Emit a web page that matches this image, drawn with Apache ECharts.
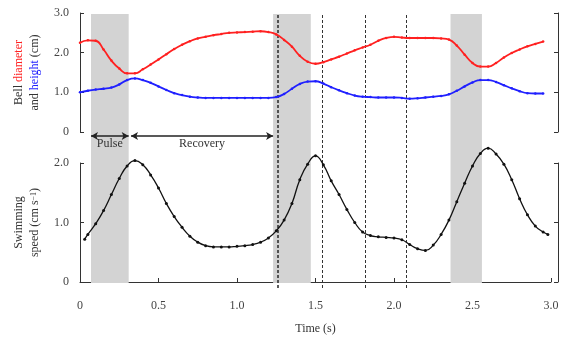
<!DOCTYPE html>
<html>
<head>
<meta charset="utf-8">
<script src="https://cdn.jsdelivr.net/npm/echarts@6/dist/echarts.min.js"></script>
<style>
  html, body { margin: 0; padding: 0; background: #fff; }
  #chart { width: 568px; height: 342px; }
</style>
</head>
<body>
<div id="chart"></div>
<script>
// time samples (s) for bell shape series
const timeBell = [0, 0.05, 0.1, 0.15, 0.2, 0.25, 0.3, 0.35, 0.4, 0.45, 0.5, 0.55, 0.6, 0.65, 0.7, 0.75, 0.8, 0.85, 0.9, 0.95,
  1.0, 1.05, 1.1, 1.15, 1.2, 1.25, 1.3, 1.35, 1.4, 1.45, 1.5, 1.55, 1.6, 1.65, 1.7, 1.75, 1.8, 1.85, 1.9, 1.95,
  2.0, 2.05, 2.1, 2.15, 2.2, 2.25, 2.3, 2.35, 2.4, 2.45, 2.5, 2.55, 2.6, 2.65, 2.7, 2.75, 2.8, 2.85, 2.9, 2.95]

const diameter = [2.25, 2.31, 2.30, 2.08, 1.80, 1.60, 1.48, 1.48, 1.58, 1.70, 1.83, 1.96, 2.09, 2.20, 2.29, 2.36, 2.40, 2.44, 2.47, 2.50,
  2.51, 2.52, 2.53, 2.54, 2.52, 2.46, 2.32, 2.15, 1.92, 1.77, 1.72, 1.76, 1.83, 1.90, 1.98, 2.06, 2.13, 2.20, 2.30, 2.37,
  2.40, 2.38, 2.37, 2.37, 2.37, 2.37, 2.36, 2.33, 2.18, 1.95, 1.74, 1.65, 1.65, 1.74, 1.88, 1.99, 2.08, 2.16, 2.22, 2.28]

const height = [1.00, 1.04, 1.07, 1.09, 1.12, 1.20, 1.31, 1.35, 1.31, 1.24, 1.15, 1.06, 0.98, 0.93, 0.89, 0.87, 0.86, 0.86, 0.86, 0.86,
  0.86, 0.86, 0.86, 0.86, 0.86, 0.88, 0.96, 1.09, 1.21, 1.27, 1.28, 1.22, 1.13, 1.05, 0.98, 0.92, 0.89, 0.88, 0.87, 0.87,
  0.87, 0.86, 0.84, 0.85, 0.87, 0.89, 0.91, 0.95, 1.04, 1.15, 1.25, 1.31, 1.31, 1.26, 1.18, 1.10, 1.03, 0.98, 0.97, 0.97]

// swimming speed (cm/s)
const timeSpeed = [0.03, 0.05, 0.1, 0.15, 0.2, 0.25, 0.3, 0.35, 0.4, 0.45, 0.5, 0.55, 0.6, 0.65, 0.7, 0.75, 0.8, 0.85, 0.9, 0.95,
  1.0, 1.05, 1.1, 1.15, 1.2, 1.25, 1.3, 1.35, 1.4, 1.45, 1.5, 1.55, 1.6, 1.65, 1.7, 1.75, 1.8, 1.85, 1.9, 1.95,
  2.0, 2.05, 2.1, 2.15, 2.2, 2.25, 2.3, 2.35, 2.4, 2.45, 2.5, 2.55, 2.6, 2.65, 2.7, 2.75, 2.8, 2.85, 2.9, 2.95, 2.98]

const speed = [0.72, 0.80, 0.98, 1.20, 1.47, 1.74, 1.95, 2.04, 1.97, 1.80, 1.58, 1.32, 1.10, 0.92, 0.77, 0.67, 0.61, 0.59, 0.59, 0.59,
  0.60, 0.61, 0.63, 0.67, 0.74, 0.86, 1.04, 1.32, 1.72, 1.98, 2.12, 1.97, 1.70, 1.47, 1.22, 1.00, 0.84, 0.78, 0.76, 0.75,
  0.74, 0.71, 0.63, 0.56, 0.53, 0.62, 0.80, 1.04, 1.35, 1.66, 1.95, 2.16, 2.25, 2.15, 1.98, 1.72, 1.40, 1.13, 0.94, 0.84, 0.80]

// shaded pulse phases and dashed event markers
const pulseStart = [0.07, 1.23, 2.36]
const pulseEnd = [0.31, 1.47, 2.56]
const dashedAt = [1.26, 1.54, 1.82, 2.08]

const phaseNames = ['Pulse', 'Recovery']
const phaseStart = [0.07, 0.325]
const phaseEnd = [0.31, 1.23]

const xTicks = [0, 0.5, 1.0, 1.5, 2.0, 2.5, 3.0]

const FONT = 'Liberation Serif'
const AXIS = '#333'
const TXT = '#444'

const zip = (xs, ys) => xs.map((x, i) => [x, ys[i]])
const fmt = v => (v === 0 ? '0' : v.toFixed(1))

const chart = echarts.init(document.getElementById('chart'), null, { renderer: 'canvas' })

const gridBase = { left: 80, width: 471, outerBoundsMode: 'none', containLabel: false }

const yBracket = (gridIndex, max, side, offset, name, rich, gap) => ({
    type: 'value', gridIndex, min: 0, max, interval: 1, position: side, offset,
    axisLine: { show: true, lineStyle: { color: AXIS, width: 1 } },
    axisTick: { show: true, inside: true, length: 4, lineStyle: { color: AXIS } },
    axisLabel: { show: side === 'left', color: TXT, fontFamily: FONT, fontSize: 12, margin: 6, formatter: fmt },
    splitLine: { show: false },
    name: name || '', nameLocation: 'middle', nameGap: gap || 0, nameRotate: 90,
    nameTextStyle: { color: '#333', fontFamily: FONT, fontSize: 12, lineHeight: 16, rich: rich || {} },
})

const hiddenX = gridIndex => ({ type: 'value', gridIndex, min: 0, max: 3, show: false })
const hiddenY = gridIndex => ({ type: 'value', gridIndex, min: 0, max: 1, show: false })

chart.setOption({
    backgroundColor: '#fff',
    animation: false,
    grid: [
        { ...gridBase, top: 13, height: 119 },   // bell shape
        { ...gridBase, top: 163, height: 119 },  // swimming speed
        { ...gridBase, top: 14, height: 269 },   // shading
        { ...gridBase, top: 13, height: 275 },   // dashed markers
        { ...gridBase, top: 131, height: 10 },   // phase arrows
    ],
    xAxis: [
        hiddenX(0),
        {
            type: 'value', gridIndex: 1, min: 0, max: 3, interval: 0.5, offset: 11,
            axisLine: { show: true, lineStyle: { color: AXIS, width: 1 } },
            axisTick: { show: true, inside: true, length: 4, lineStyle: { color: AXIS } },
            axisLabel: { color: TXT, fontFamily: FONT, fontSize: 12, margin: 7, formatter: fmt,
                customValues: xTicks },
            splitLine: { show: false },
            name: 'Time (s)', nameLocation: 'middle', nameGap: 30,
            nameTextStyle: { color: '#333', fontFamily: FONT, fontSize: 12 },
        },
        hiddenX(2), hiddenX(3), hiddenX(4),
    ],
    yAxis: [
        yBracket(0, 3, 'left', 5, 'Bell {r|diameter}\nand {b|height} (cm)',
            { r: { color: '#ff2020', fontFamily: FONT, fontSize: 12 }, b: { color: '#2020ff', fontFamily: FONT, fontSize: 12 } }, 31),
        yBracket(0, 3, 'right', 7),
        yBracket(1, 2, 'left', 5, 'Swimming\nspeed (cm s{s|\u22121})',
            { s: { fontFamily: FONT, fontSize: 8, verticalAlign: 'bottom', padding: [0, 0, 5, 0] } }, 31),
        yBracket(1, 2, 'right', 7),
        hiddenY(2), hiddenY(3), hiddenY(4),
    ],
    series: [
        {
            type: 'line', xAxisIndex: 2, yAxisIndex: 4, data: [], z: 1, silent: true,
            markArea: {
                silent: true,
                itemStyle: { color: '#d3d3d3' },
                data: pulseStart.map((s, i) => [{ xAxis: s }, { xAxis: pulseEnd[i] }]),
            },
        },
        {
            type: 'line', xAxisIndex: 3, yAxisIndex: 5, data: [], z: 2, silent: true,
            markLine: {
                silent: true, symbol: 'none', label: { show: false },
                lineStyle: { color: '#333', width: 1, type: [3, 2] },
                data: dashedAt.map((x, i) => ({ xAxis: x, lineStyle: i === 0 ? { width: 1.6 } : {} })),
            },
        },
        {
            type: 'line', xAxisIndex: 4, yAxisIndex: 6, data: [], z: 3, silent: true,
            markLine: {
                silent: true, symbol: ['arrow', 'arrow'], symbolSize: [6, 7],
                lineStyle: { color: '#222', width: 1.5, type: 'solid' },
                label: { show: true, position: 'insideMiddleBottom', distance: 2, formatter: '{b}',
                    color: '#333', fontFamily: FONT, fontSize: 12 },
                data: phaseNames.map((n, i) => [
                    { name: n, coord: [phaseStart[i], 0.5] },
                    { coord: [phaseEnd[i], 0.5] },
                ]),
            },
        },
        {
            type: 'line', name: 'diameter', xAxisIndex: 0, yAxisIndex: 0, z: 5,
            data: zip(timeBell, diameter), smooth: true,
            symbol: 'circle', symbolSize: 2.5, showSymbol: true,
            lineStyle: { color: '#ff2020', width: 1.8 }, itemStyle: { color: '#ff2020' },
        },
        {
            type: 'line', name: 'height', xAxisIndex: 0, yAxisIndex: 0, z: 5,
            data: zip(timeBell, height), smooth: true,
            symbol: 'circle', symbolSize: 2.5, showSymbol: true,
            lineStyle: { color: '#2020ff', width: 1.8 }, itemStyle: { color: '#2020ff' },
        },
        {
            type: 'line', name: 'speed', xAxisIndex: 1, yAxisIndex: 2, z: 5, clip: false,
            data: zip(timeSpeed, speed), smooth: true,
            symbol: 'circle', symbolSize: 3, showSymbol: true,
            lineStyle: { color: '#111', width: 1.3 }, itemStyle: { color: '#111' },
        },
    ],
})
</script>
</body>
</html>
